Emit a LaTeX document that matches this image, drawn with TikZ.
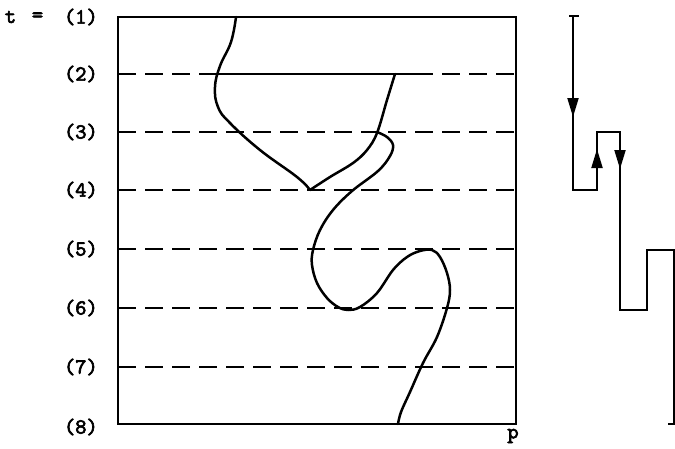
\documentclass[tikz,border=0pt]{standalone}
\usepackage{fontspec}
\newfontfamily\lblfont{lmmono10-regular.otf}[FakeBold=3]
\usetikzlibrary{arrows.meta}
\begin{document}
\begin{tikzpicture}[x=1pt,y=-1pt,
  lbl/.style={font=\lblfont\fontsize{21.5}{24}\selectfont, inner sep=0pt},
  frame/.style={line width=2.6pt},
  dashline/.style={line width=2.3pt, dash pattern=on 18pt off 9pt},
  world/.style={line width=2.5pt, line join=round, line cap=round},
  stair/.style={line width=2pt},
  tipdown/.style={-{Triangle[length=19pt,width=11pt]}, line width=2pt}]
\useasboundingbox (0,0) rectangle (675,448);

% labels
\node[lbl] (teq) at (10.5,17) {t};
\node[lbl] (eq) at (37.5,17) {=};
\foreach \k/\y in {1/17,2/74,3/132,4/190,5/249,6/308,7/367,8/427}{
  \node[lbl, anchor=east] (l\k) at (98,\y) {(\k)};
}
\node[lbl] (p) at (513,436) {p};

% time lines
\draw[dashline] (118,74) -- (216,74);
\draw[frame] (216,74) -- (433,74);
\draw[dashline, dash phase=18pt] (433,74) -- (516,74);
\foreach \y in {132,190,249,308,367}{
  \draw[dashline] (118,\y) -- (516,\y);
}
\draw[frame] (118,17) rectangle (516,424);

% world lines
\draw[world] plot[smooth, tension=0.7] coordinates {(236,17) (231,42) (220,66) (215,87) (218,107) (230,123) (260,150) (297,177) (310,190)};
\draw[world] plot[smooth, tension=0.6] coordinates {(395,74) (387,100) (377,133) (367,150) (353,163) (330,177) (310,190)};
\draw[world] plot[smooth, tension=0.6] coordinates {(377,132) (387,137) (393,145) (390,156) (378,171) (352,191) (333,210) (320,230) (313,250) (312,265) (317,283) (327,298) (338,307) (348,310) (360,307) (377,293) (393,270) (407,257) (420,251) (432,250) (440,257) (447,273) (450,290) (447,308) (437,337) (423,363) (410,392) (401,412) (398,424)};

% staircase
\coordinate (s0) at (573,16);
\coordinate (s1) at (573,190);
\coordinate (s2) at (597,190);
\coordinate (s3) at (597,132);
\coordinate (s4) at (620,132);
\coordinate (s5) at (620,310);
\coordinate (s6) at (647,310);
\coordinate (s7) at (647,250);
\coordinate (s8) at (674,250);
\coordinate (s9) at (674,424);
\draw[stair] (569,16) -- (579,16);
\draw[stair] (s0) -- (s1) -- (s2) -- (s3) -- (s4) -- (s5) -- (s6) -- (s7) -- (s8) -- (s9) -- ++(-6,0);
\draw[tipdown] (573,97) -- (573,117);
\draw[tipdown] (597,170) -- (597,149);
\draw[tipdown] (620,149) -- (620,169);
\end{tikzpicture}
\end{document}
